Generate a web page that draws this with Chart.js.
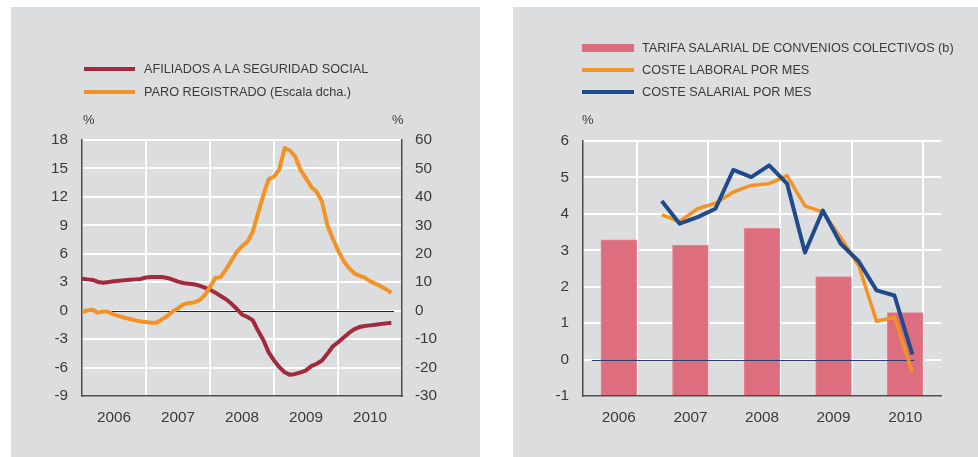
<!DOCTYPE html>
<html lang="es">
<head>
<meta charset="utf-8">
<title>Afiliados, paro y costes laborales</title>
<script src="https://cdn.jsdelivr.net/npm/chart.js@4.4.0/dist/chart.umd.min.js"></script>
<style>
    body { margin: 0; background: #fff; font-family: "Liberation Sans", Arial, sans-serif; color: #3a3a3a; }
    .panel { position: absolute; top: 7px; height: 450px; background: #dcdddf; }
    .panel canvas { position: absolute; left: 0; top: 0; }
    .item { position: absolute; height: 20px; line-height: 20px; font-size: 12.7px; white-space: nowrap; }
    .muestra { position: absolute; }
    .item span { position: absolute; top: 0; }
    .pct { position: absolute; font-size: 13px; line-height: 16px; }
</style>
</head>
<body>

<div class="panel" style="left:11px;width:469px">
    <canvas id="graficoEmpleo" width="469" height="450"></canvas>
    <div class="item" style="left:73px;top:52px">
        <div class="muestra" style="left:0;top:8px;width:51px;height:4px;background:#a3293d"></div>
        <span style="left:60px">AFILIADOS A LA SEGURIDAD SOCIAL</span>
    </div>
    <div class="item" style="left:73px;top:75px">
        <div class="muestra" style="left:0;top:8px;width:51px;height:4px;background:#f39325"></div>
        <span style="left:60px">PARO REGISTRADO (Escala dcha.)</span>
    </div>
    <div class="pct" style="left:72px;top:105px">%</div>
    <div class="pct" style="left:381px;top:105px">%</div>
</div>

<div class="panel" style="left:513px;width:465px">
    <canvas id="graficoCostes" width="465" height="450"></canvas>
    <div class="item" style="left:69px;top:31px">
        <div class="muestra" style="left:0;top:6px;width:52px;height:8px;background:#dc6e7e"></div>
        <span style="left:60px">TARIFA SALARIAL DE CONVENIOS COLECTIVOS (b)</span>
    </div>
    <div class="item" style="left:69px;top:53px">
        <div class="muestra" style="left:0;top:8px;width:52px;height:4px;background:#f39325"></div>
        <span style="left:60px">COSTE LABORAL POR MES</span>
    </div>
    <div class="item" style="left:69px;top:75px">
        <div class="muestra" style="left:0;top:8px;width:52px;height:4px;background:#1f4a8c"></div>
        <span style="left:60px">COSTE SALARIAL POR MES</span>
    </div>
    <div class="pct" style="left:69px;top:105px">%</div>
</div>

<script>
    'use strict';

    // años del eje horizontal (ambos gráficos)
    var anios = ['2006', '2007', '2008', '2009', '2010'];

    // tasas interanuales mensuales, ene-2006 a nov-2010
    var afiliados = [
        3.38, 3.3, 3.24, 3.03, 2.95, 3.03, 3.1, 3.15, 3.2, 3.25, 3.3, 3.35,
        3.5, 3.55, 3.55, 3.55, 3.45, 3.27, 3.07, 2.92, 2.85, 2.78, 2.64, 2.43,
        2.22, 1.9, 1.55, 1.2, 0.75, 0.2, -0.4, -0.67, -1.0, -2.1, -3.1, -4.4,
        -5.25, -5.96, -6.5, -6.77, -6.67, -6.5, -6.3, -5.85, -5.6, -5.25, -4.55, -3.78,
        -3.35, -2.86, -2.37, -1.98, -1.73, -1.62, -1.55, -1.48, -1.41, -1.34, -1.27
    ];
    var paro = [
        -0.5, 0.1, 0.35, -0.7, -0.25, -0.5, -1.4, -1.9, -2.5, -2.95, -3.4, -3.8,
        -4.0, -4.25, -4.25, -3.05, -1.9, -0.25, 0.8, 2.2, 2.7, 2.9, 3.6, 5.4,
        8.3, 11.5, 11.8, 14.5, 17.5, 20.6, 22.7, 24.2, 27.7, 34.2, 40.6, 46.2,
        47.1, 49.7, 57.2, 56.3, 54.1, 49.4, 46.5, 43.5, 41.8, 38.3, 30.1, 25.4,
        21.2, 17.7, 15.1, 13.2, 12.3, 11.6, 10.4, 9.5, 8.6, 7.5, 6.3
    ];

    // datos anuales y trimestrales del gráfico de costes
    var tarifa = [3.29, 3.14, 3.60, 2.28, 1.29];
    var trimestres = ['I-07', 'II-07', 'III-07', 'IV-07', 'I-08', 'II-08', 'III-08', 'IV-08',
                      'I-09', 'II-09', 'III-09', 'IV-09', 'I-10', 'II-10', 'III-10'];
    var costeLaboral = [3.97, 3.79, 4.14, 4.29, 4.6, 4.78, 4.83, 5.05, 4.22, 4.05, 3.35, 2.58, 1.05, 1.16, -0.35];
    var costeSalarial = [4.35, 3.73, 3.91, 4.14, 5.21, 5.01, 5.33, 4.83, 2.94, 4.09, 3.18, 2.70, 1.9, 1.76, 0.14];

    var BLANCO = '#ffffff';
    var BORDE = '#4d4d4d';

    Chart.defaults.font.family = '"Liberation Sans", Arial, sans-serif';
    Chart.defaults.color = '#3a3a3a';
    Chart.defaults.animation = false;

    // línea del cero, trazada con las escalas del gráfico
    var lineaCero = {
        id: 'lineaCero',
        trazar: function(chart, opts) {
            var x = chart.scales.x, y = chart.scales.y, ctx = chart.ctx;
            var py = Math.round(y.getPixelForValue(0)) + 0.5;
            ctx.save();
            ctx.strokeStyle = opts.color;
            ctx.lineWidth = 1;
            ctx.beginPath();
            ctx.moveTo(x.getPixelForValue(opts.desde), py);
            ctx.lineTo(x.getPixelForValue(opts.hasta), py);
            ctx.stroke();
            ctx.restore();
        },
        beforeDatasetsDraw: function(chart, args, opts) {
            if (opts.tras < 0) this.trazar(chart, opts);
        },
        afterDatasetDraw: function(chart, args, opts) {
            if (args.index === opts.tras) this.trazar(chart, opts);
        }
    };

    function fijarAncho(w) { return function(scale) { scale.width = w; }; }
    function fijarAlto(h) { return function(scale) { scale.height = h; }; }

    function serieMensual(valores) {
        return valores.map(function(v, i) { return { x: i, y: v }; });
    }

    // --- gráfico izquierdo: afiliados y paro ---
    new Chart(document.getElementById('graficoEmpleo').getContext('2d'), {
        type: 'line',
        plugins: [lineaCero],
        data: {
            datasets: [{
                label: 'PARO REGISTRADO (Escala dcha.)',
                data: serieMensual(paro),
                yAxisID: 'yDcha',
                borderColor: '#f39325',
                borderWidth: 4,
                pointRadius: 0,
                borderJoinStyle: 'round',
                order: 1
            }, {
                label: 'AFILIADOS A LA SEGURIDAD SOCIAL',
                data: serieMensual(afiliados),
                yAxisID: 'y',
                borderColor: '#a3293d',
                borderWidth: 4,
                pointRadius: 0,
                borderJoinStyle: 'round',
                order: 2
            }]
        },
        options: {
            responsive: false,
            layout: { padding: { top: 133, left: 0, right: 0, bottom: 0 } },
            plugins: {
                legend: { display: false },
                tooltip: { enabled: false },
                lineaCero: { tras: -1, desde: 0.1, hasta: 58.5, color: '#222' }
            },
            scales: {
                x: {
                    type: 'linear',
                    min: 0,
                    max: 60,
                    afterBuildTicks: function(scale) {
                        scale.ticks = [0, 6, 12, 18, 24, 30, 36, 42, 48, 54, 60].map(function(v) { return { value: v }; });
                    },
                    afterFit: fijarAlto(61),
                    ticks: {
                        padding: 13,
                        maxRotation: 0,
                        autoSkip: false,
                        font: { size: 15.3 },
                        callback: function(v) { return v % 12 === 6 ? anios[(v - 6) / 12] : ''; }
                    },
                    grid: {
                        drawTicks: false,
                        lineWidth: 2,
                        color: function(ctx) {
                            var v = ctx.tick && ctx.tick.value;
                            return (v % 12 === 0 && v !== 0 && v !== 60) ? BLANCO : 'transparent';
                        }
                    },
                    border: { color: BORDE, width: 1.5 }
                },
                y: {
                    position: 'left',
                    min: -9,
                    max: 18,
                    afterFit: fijarAncho(71),
                    ticks: { stepSize: 3, padding: 14, font: { size: 15.3 } },
                    grid: {
                        drawTicks: false,
                        lineWidth: 2,
                        color: function(ctx) {
                            var v = ctx.tick && ctx.tick.value;
                            return v === -9 ? 'transparent' : BLANCO;
                        }
                    },
                    border: { color: BORDE, width: 1.5 }
                },
                yDcha: {
                    position: 'right',
                    min: -30,
                    max: 60,
                    afterFit: fijarAncho(78),
                    ticks: { stepSize: 10, padding: 13, font: { size: 15.3 } },
                    grid: { drawOnChartArea: false, drawTicks: false },
                    border: { color: BORDE, width: 1.5 }
                }
            }
        }
    });

    // --- gráfico derecho: tarifa salarial y costes ---
    new Chart(document.getElementById('graficoCostes').getContext('2d'), {
        type: 'bar',
        plugins: [lineaCero],
        data: {
            datasets: [{
                type: 'line',
                label: 'COSTE SALARIAL POR MES',
                data: costeSalarial.map(function(v, i) { return { x: 4.4 + i, y: v }; }),
                borderColor: '#1f4a8c',
                borderWidth: 4,
                pointRadius: 0,
                borderJoinStyle: 'round',
                order: 1
            }, {
                type: 'line',
                label: 'COSTE LABORAL POR MES',
                data: costeLaboral.map(function(v, i) { return { x: 4.4 + i, y: v }; }),
                borderColor: '#f39325',
                borderWidth: 3.5,
                pointRadius: 0,
                borderJoinStyle: 'round',
                order: 2
            }, {
                type: 'bar',
                label: 'TARIFA SALARIAL DE CONVENIOS COLECTIVOS (b)',
                data: tarifa.map(function(v, i) { return { x: i * 4 + 2, y: v }; }),
                base: -1,
                backgroundColor: '#dc6e7e',
                borderColor: '#e48894',
                borderWidth: 1,
                categoryPercentage: 1,
                barPercentage: 1,
                order: 3
            }]
        },
        options: {
            responsive: false,
            layout: { padding: { top: 134, left: 0, right: 37, bottom: 0 } },
            plugins: {
                legend: { display: false },
                tooltip: { enabled: false },
                lineaCero: { tras: 2, desde: 0.49, hasta: 18.5, color: '#2d3e6e' }
            },
            scales: {
                x: {
                    type: 'linear',
                    min: 0,
                    max: 20,
                    offset: false,
                    afterBuildTicks: function(scale) {
                        scale.ticks = [0, 2, 4, 6, 8, 10, 12, 14, 16, 18, 20].map(function(v) { return { value: v }; });
                    },
                    afterFit: fijarAlto(61),
                    ticks: {
                        padding: 13,
                        maxRotation: 0,
                        autoSkip: false,
                        font: { size: 15.3 },
                        callback: function(v) { return v % 4 === 2 ? anios[(v - 2) / 4] : ''; }
                    },
                    grid: {
                        drawTicks: false,
                        lineWidth: 2,
                        color: function(ctx) {
                            var v = ctx.tick && ctx.tick.value;
                            return (v % 4 === 0 && v !== 0) ? BLANCO : 'transparent';
                        }
                    },
                    border: { color: BORDE, width: 1.5 }
                },
                y: {
                    min: -1,
                    max: 6,
                    afterFit: fijarAncho(70),
                    ticks: { stepSize: 1, padding: 14, font: { size: 15.3 } },
                    grid: {
                        drawTicks: false,
                        lineWidth: 2,
                        color: function(ctx) {
                            var v = ctx.tick && ctx.tick.value;
                            return v === -1 ? 'transparent' : BLANCO;
                        }
                    },
                    border: { color: BORDE, width: 1.5 }
                }
            }
        }
    });
</script>
</body>
</html>
